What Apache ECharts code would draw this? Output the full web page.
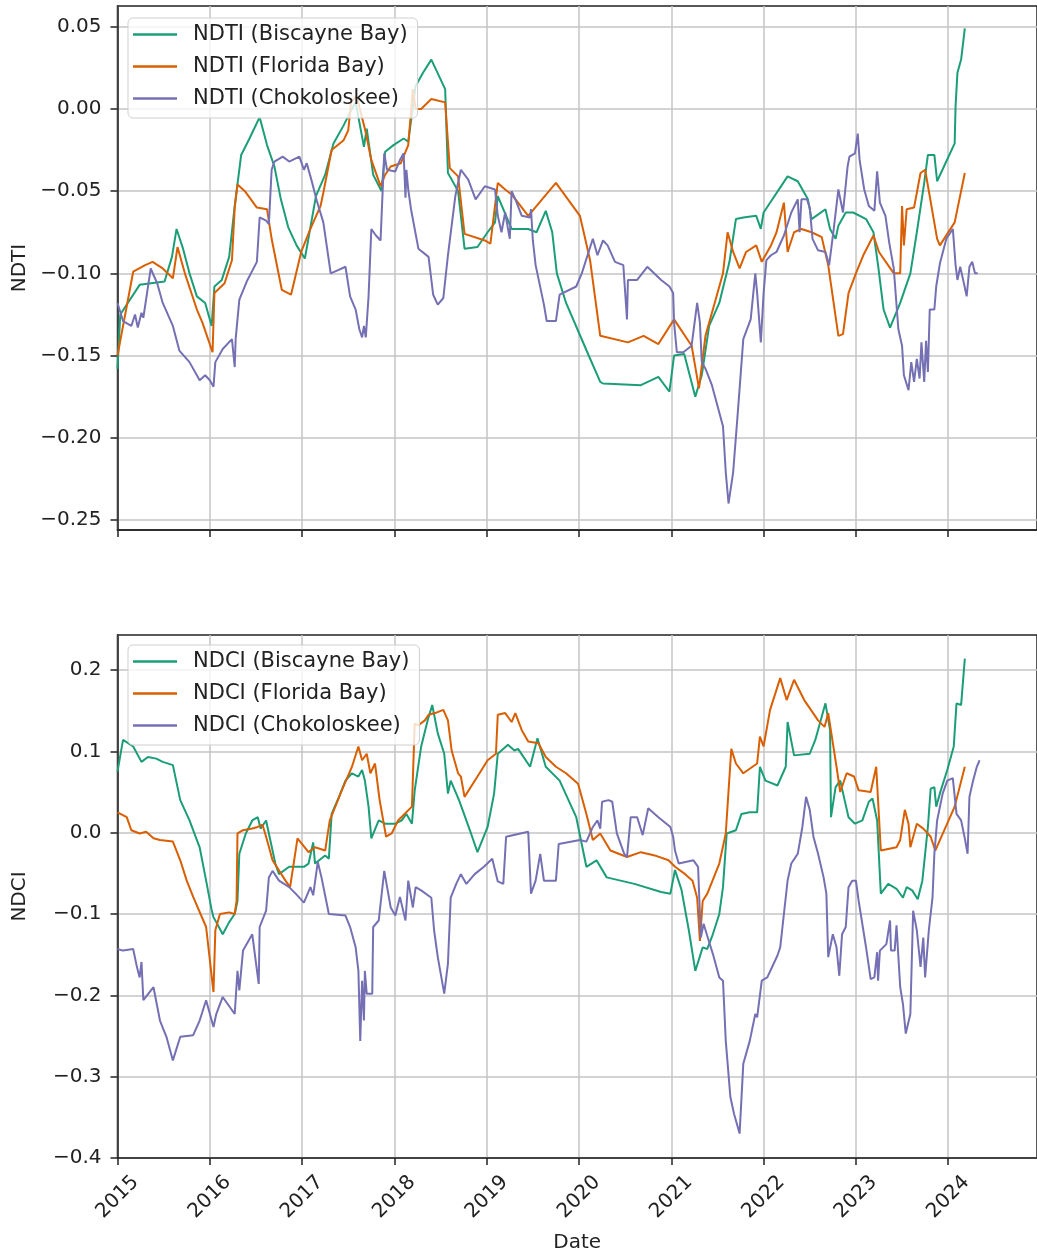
<!DOCTYPE html>
<html>
<head>
<meta charset="utf-8">
<script src="https://cdn.jsdelivr.net/npm/echarts@6/dist/echarts.min.js"></script>
<style>
  html, body { margin: 0; padding: 0; background: #fff; }
  #chart { width: 1037px; height: 1255px; }
</style>
</head>
<body>
<div id="chart"></div>
<script>
// ---- data: [decimal year, index value] ----
const ndtiBiscayne = [[2015.00,-0.158],[2015.03,-0.125],[2015.24,-0.107],[2015.51,-0.105],[2015.59,-0.090],[2015.64,-0.073],[2015.71,-0.085],[2015.78,-0.100],[2015.86,-0.114],[2015.95,-0.118],[2016.02,-0.132],[2016.05,-0.108],[2016.13,-0.104],[2016.21,-0.090],[2016.27,-0.059],[2016.34,-0.028],[2016.43,-0.018],[2016.54,-0.005],[2016.62,-0.022],[2016.70,-0.035],[2016.77,-0.055],[2016.85,-0.072],[2016.94,-0.083],[2017.03,-0.091],[2017.05,-0.092],[2017.15,-0.053],[2017.25,-0.040],[2017.34,-0.021],[2017.45,-0.010],[2017.53,-0.001],[2017.58,0.004],[2017.62,-0.008],[2017.67,-0.023],[2017.70,-0.012],[2017.77,-0.040],[2017.86,-0.050],[2017.90,-0.026],[2017.99,-0.022],[2018.10,-0.018],[2018.15,-0.020],[2018.23,0.014],[2018.31,0.022],[2018.40,0.030],[2018.55,0.012],[2018.58,-0.039],[2018.69,-0.050],[2018.76,-0.085],[2018.90,-0.084],[2019.01,-0.075],[2019.09,-0.069],[2019.12,-0.053],[2019.27,-0.073],[2019.45,-0.073],[2019.54,-0.075],[2019.64,-0.062],[2019.71,-0.075],[2019.76,-0.100],[2019.86,-0.118],[2020.09,-0.148],[2020.23,-0.166],[2020.26,-0.167],[2020.67,-0.168],[2020.86,-0.163],[2020.98,-0.172],[2021.03,-0.150],[2021.14,-0.149],[2021.26,-0.175],[2021.33,-0.162],[2021.41,-0.132],[2021.52,-0.118],[2021.63,-0.093],[2021.70,-0.067],[2021.78,-0.066],[2021.92,-0.065],[2021.97,-0.073],[2022.00,-0.063],[2022.26,-0.041],[2022.37,-0.044],[2022.48,-0.055],[2022.52,-0.067],[2022.67,-0.061],[2022.72,-0.073],[2022.78,-0.079],[2022.81,-0.071],[2022.89,-0.063],[2022.97,-0.063],[2023.11,-0.067],[2023.19,-0.075],[2023.24,-0.095],[2023.30,-0.122],[2023.37,-0.133],[2023.48,-0.118],[2023.59,-0.100],[2023.66,-0.075],[2023.74,-0.045],[2023.78,-0.028],[2023.85,-0.028],[2023.88,-0.044],[2024.07,-0.021],[2024.08,0.002],[2024.10,0.022],[2024.14,0.030],[2024.18,0.049]];

const ndtiFlorida = [[2015.00,-0.150],[2015.17,-0.099],[2015.30,-0.095],[2015.38,-0.093],[2015.49,-0.097],[2015.60,-0.103],[2015.65,-0.084],[2015.73,-0.100],[2015.86,-0.122],[2015.92,-0.130],[2016.03,-0.148],[2016.05,-0.112],[2016.16,-0.106],[2016.24,-0.092],[2016.27,-0.060],[2016.30,-0.046],[2016.38,-0.050],[2016.51,-0.060],[2016.62,-0.061],[2016.67,-0.079],[2016.73,-0.096],[2016.78,-0.110],[2016.88,-0.113],[2016.99,-0.087],[2017.09,-0.073],[2017.20,-0.059],[2017.23,-0.051],[2017.32,-0.025],[2017.45,-0.019],[2017.50,-0.013],[2017.53,0.004],[2017.59,0.008],[2017.68,-0.012],[2017.75,-0.031],[2017.85,-0.047],[2017.90,-0.040],[2017.96,-0.035],[2018.07,-0.033],[2018.15,-0.022],[2018.20,0.012],[2018.23,0.000],[2018.29,0.000],[2018.40,0.006],[2018.55,0.004],[2018.60,-0.036],[2018.69,-0.041],[2018.76,-0.076],[2018.98,-0.080],[2019.04,-0.082],[2019.12,-0.045],[2019.20,-0.049],[2019.27,-0.052],[2019.45,-0.065],[2019.75,-0.045],[2020.01,-0.065],[2020.12,-0.092],[2020.23,-0.138],[2020.53,-0.142],[2020.70,-0.138],[2020.86,-0.143],[2021.03,-0.128],[2021.22,-0.144],[2021.30,-0.170],[2021.37,-0.138],[2021.48,-0.116],[2021.56,-0.100],[2021.61,-0.075],[2021.67,-0.087],[2021.74,-0.097],[2021.81,-0.087],[2021.92,-0.083],[2021.98,-0.093],[2022.08,-0.083],[2022.14,-0.075],[2022.22,-0.057],[2022.26,-0.087],[2022.33,-0.075],[2022.41,-0.073],[2022.52,-0.075],[2022.63,-0.078],[2022.70,-0.095],[2022.81,-0.138],[2022.86,-0.137],[2022.92,-0.112],[2023.00,-0.100],[2023.08,-0.089],[2023.19,-0.077],[2023.25,-0.087],[2023.41,-0.100],[2023.48,-0.100],[2023.50,-0.059],[2023.52,-0.083],[2023.55,-0.061],[2023.63,-0.060],[2023.70,-0.039],[2023.75,-0.037],[2023.88,-0.079],[2023.91,-0.083],[2024.07,-0.069],[2024.18,-0.039]];

const ndtiChokoloskee = [[2015.00,-0.118],[2015.06,-0.129],[2015.15,-0.132],[2015.19,-0.125],[2015.22,-0.133],[2015.26,-0.124],[2015.28,-0.127],[2015.32,-0.112],[2015.36,-0.097],[2015.39,-0.101],[2015.43,-0.106],[2015.49,-0.118],[2015.60,-0.132],[2015.67,-0.147],[2015.78,-0.154],[2015.89,-0.165],[2015.95,-0.162],[2016.00,-0.165],[2016.04,-0.169],[2016.06,-0.154],[2016.14,-0.146],[2016.24,-0.140],[2016.27,-0.157],[2016.28,-0.140],[2016.32,-0.116],[2016.40,-0.105],[2016.51,-0.093],[2016.54,-0.066],[2016.61,-0.068],[2016.64,-0.070],[2016.67,-0.037],[2016.70,-0.032],[2016.79,-0.029],[2016.86,-0.032],[2016.97,-0.029],[2017.02,-0.037],[2017.05,-0.033],[2017.10,-0.043],[2017.16,-0.056],[2017.23,-0.069],[2017.31,-0.100],[2017.39,-0.098],[2017.47,-0.096],[2017.52,-0.114],[2017.58,-0.122],[2017.62,-0.134],[2017.65,-0.139],[2017.67,-0.132],[2017.69,-0.139],[2017.72,-0.114],[2017.75,-0.073],[2017.80,-0.077],[2017.85,-0.080],[2017.89,-0.027],[2017.92,-0.037],[2018.01,-0.038],[2018.06,-0.031],[2018.10,-0.027],[2018.12,-0.054],[2018.13,-0.037],[2018.15,-0.049],[2018.18,-0.061],[2018.26,-0.085],[2018.37,-0.090],[2018.42,-0.113],[2018.47,-0.119],[2018.53,-0.115],[2018.58,-0.089],[2018.66,-0.053],[2018.72,-0.037],[2018.80,-0.043],[2018.88,-0.055],[2018.98,-0.047],[2019.09,-0.049],[2019.12,-0.065],[2019.16,-0.075],[2019.20,-0.063],[2019.25,-0.079],[2019.27,-0.050],[2019.31,-0.055],[2019.38,-0.065],[2019.47,-0.066],[2019.48,-0.061],[2019.50,-0.080],[2019.53,-0.095],[2019.62,-0.119],[2019.65,-0.129],[2019.75,-0.129],[2019.79,-0.113],[2019.97,-0.108],[2020.03,-0.100],[2020.15,-0.079],[2020.20,-0.089],[2020.26,-0.080],[2020.31,-0.083],[2020.39,-0.093],[2020.48,-0.095],[2020.52,-0.128],[2020.53,-0.104],[2020.63,-0.104],[2020.74,-0.096],[2020.89,-0.104],[2020.98,-0.108],[2021.02,-0.112],[2021.03,-0.130],[2021.06,-0.148],[2021.13,-0.148],[2021.22,-0.144],[2021.28,-0.118],[2021.31,-0.130],[2021.33,-0.154],[2021.37,-0.158],[2021.44,-0.168],[2021.56,-0.193],[2021.59,-0.221],[2021.62,-0.240],[2021.67,-0.221],[2021.72,-0.185],[2021.78,-0.140],[2021.86,-0.128],[2021.91,-0.100],[2021.93,-0.112],[2021.97,-0.142],[2022.00,-0.112],[2022.03,-0.092],[2022.08,-0.089],[2022.14,-0.087],[2022.22,-0.077],[2022.30,-0.063],[2022.37,-0.055],[2022.39,-0.075],[2022.41,-0.055],[2022.47,-0.055],[2022.50,-0.060],[2022.53,-0.079],[2022.59,-0.086],[2022.67,-0.087],[2022.71,-0.095],[2022.76,-0.073],[2022.81,-0.049],[2022.86,-0.063],[2022.91,-0.035],[2022.93,-0.029],[2022.99,-0.027],[2023.02,-0.015],[2023.04,-0.031],[2023.09,-0.049],[2023.14,-0.059],[2023.20,-0.062],[2023.23,-0.038],[2023.26,-0.057],[2023.32,-0.065],[2023.36,-0.081],[2023.41,-0.097],[2023.46,-0.134],[2023.50,-0.144],[2023.52,-0.162],[2023.57,-0.171],[2023.60,-0.154],[2023.63,-0.166],[2023.66,-0.152],[2023.69,-0.164],[2023.71,-0.142],[2023.74,-0.166],[2023.76,-0.141],[2023.78,-0.160],[2023.80,-0.122],[2023.85,-0.122],[2023.87,-0.108],[2023.91,-0.094],[2023.98,-0.079],[2024.05,-0.073],[2024.08,-0.095],[2024.10,-0.104],[2024.13,-0.096],[2024.17,-0.106],[2024.20,-0.114],[2024.23,-0.096],[2024.26,-0.093],[2024.29,-0.100],[2024.32,-0.100]];

const ndciBiscayne = [[2015.00,0.075],[2015.06,0.114],[2015.17,0.106],[2015.26,0.087],[2015.33,0.093],[2015.42,0.091],[2015.49,0.087],[2015.60,0.083],[2015.68,0.040],[2015.78,0.015],[2015.89,-0.018],[2015.96,-0.059],[2016.02,-0.095],[2016.04,-0.104],[2016.07,-0.110],[2016.14,-0.125],[2016.21,-0.110],[2016.27,-0.100],[2016.30,-0.084],[2016.32,-0.026],[2016.39,-0.001],[2016.46,0.015],[2016.52,0.019],[2016.55,0.005],[2016.61,0.015],[2016.64,-0.001],[2016.71,-0.038],[2016.75,-0.051],[2016.86,-0.042],[2017.02,-0.042],[2017.07,-0.038],[2017.12,-0.012],[2017.14,-0.038],[2017.25,-0.028],[2017.29,-0.032],[2017.32,0.023],[2017.40,0.044],[2017.47,0.064],[2017.54,0.073],[2017.61,0.069],[2017.65,0.077],[2017.68,0.064],[2017.72,0.032],[2017.75,-0.007],[2017.83,0.015],[2017.90,0.011],[2018.01,0.011],[2018.08,0.015],[2018.13,0.023],[2018.19,0.011],[2018.22,0.052],[2018.29,0.106],[2018.36,0.138],[2018.41,0.157],[2018.47,0.122],[2018.54,0.097],[2018.58,0.048],[2018.61,0.064],[2018.70,0.040],[2018.83,-0.001],[2018.90,-0.024],[2019.01,0.007],[2019.08,0.048],[2019.12,0.097],[2019.23,0.108],[2019.30,0.101],[2019.34,0.103],[2019.47,0.081],[2019.55,0.116],[2019.64,0.081],[2019.79,0.064],[2019.97,0.019],[2020.08,-0.042],[2020.19,-0.034],[2020.30,-0.055],[2020.60,-0.063],[2020.89,-0.073],[2020.99,-0.075],[2021.04,-0.046],[2021.11,-0.070],[2021.19,-0.120],[2021.26,-0.170],[2021.34,-0.141],[2021.39,-0.143],[2021.45,-0.125],[2021.52,-0.100],[2021.56,-0.067],[2021.60,-0.001],[2021.70,0.003],[2021.76,0.023],[2021.85,0.025],[2021.93,0.025],[2021.96,0.081],[2022.02,0.064],[2022.15,0.058],[2022.24,0.081],[2022.26,0.136],[2022.33,0.095],[2022.50,0.097],[2022.56,0.114],[2022.67,0.159],[2022.72,0.126],[2022.73,0.019],[2022.78,0.056],[2022.83,0.064],[2022.87,0.044],[2022.92,0.019],[2022.99,0.011],[2023.07,0.015],[2023.14,0.038],[2023.18,0.042],[2023.23,0.015],[2023.27,-0.075],[2023.35,-0.063],[2023.44,-0.069],[2023.51,-0.080],[2023.55,-0.067],[2023.61,-0.071],[2023.67,-0.082],[2023.72,-0.059],[2023.78,0.007],[2023.81,0.054],[2023.85,0.056],[2023.87,0.032],[2023.92,0.052],[2023.99,0.077],[2024.06,0.106],[2024.09,0.159],[2024.14,0.157],[2024.18,0.214]];

const ndciFlorida = [[2015.00,0.025],[2015.10,0.019],[2015.15,0.003],[2015.24,-0.001],[2015.31,0.001],[2015.39,-0.007],[2015.46,-0.009],[2015.60,-0.011],[2015.68,-0.034],[2015.75,-0.059],[2015.82,-0.079],[2015.96,-0.116],[2016.04,-0.196],[2016.06,-0.120],[2016.11,-0.100],[2016.21,-0.098],[2016.27,-0.100],[2016.29,-0.084],[2016.30,-0.001],[2016.36,0.003],[2016.46,0.005],[2016.52,0.007],[2016.57,0.010],[2016.61,-0.005],[2016.68,-0.034],[2016.82,-0.059],[2016.87,-0.067],[2016.95,-0.007],[2017.07,-0.024],[2017.14,-0.018],[2017.25,-0.022],[2017.30,0.015],[2017.43,0.052],[2017.54,0.081],[2017.61,0.106],[2017.65,0.089],[2017.70,0.097],[2017.74,0.073],[2017.79,0.085],[2017.84,0.040],[2017.91,-0.005],[2017.97,-0.001],[2018.04,0.015],[2018.11,0.023],[2018.19,0.032],[2018.22,0.134],[2018.26,0.132],[2018.33,0.138],[2018.37,0.145],[2018.44,0.147],[2018.53,0.151],[2018.58,0.138],[2018.62,0.101],[2018.69,0.073],[2018.72,0.069],[2018.76,0.044],[2018.90,0.069],[2019.01,0.089],[2019.10,0.097],[2019.12,0.145],[2019.20,0.147],[2019.27,0.136],[2019.31,0.147],[2019.38,0.126],[2019.45,0.112],[2019.56,0.110],[2019.64,0.093],[2019.75,0.081],[2019.86,0.073],[2019.99,0.060],[2020.08,0.023],[2020.15,-0.009],[2020.23,-0.001],[2020.34,-0.022],[2020.52,-0.030],[2020.67,-0.024],[2020.82,-0.028],[2020.97,-0.034],[2021.04,-0.042],[2021.15,-0.051],[2021.23,-0.059],[2021.28,-0.080],[2021.31,-0.133],[2021.34,-0.084],[2021.39,-0.075],[2021.52,-0.038],[2021.59,-0.001],[2021.65,0.103],[2021.70,0.085],[2021.78,0.073],[2021.93,0.085],[2021.96,0.118],[2022.00,0.106],[2022.07,0.151],[2022.18,0.190],[2022.25,0.163],[2022.33,0.188],[2022.44,0.163],[2022.59,0.138],[2022.66,0.130],[2022.70,0.147],[2022.79,0.081],[2022.83,0.050],[2022.90,0.073],[2022.98,0.069],[2023.03,0.052],[2023.16,0.050],[2023.22,0.081],[2023.27,-0.022],[2023.44,-0.018],[2023.48,-0.009],[2023.53,0.028],[2023.57,0.011],[2023.59,-0.018],[2023.66,0.011],[2023.73,0.005],[2023.81,-0.005],[2023.86,-0.022],[2024.07,0.032],[2024.18,0.081]];

const ndciChokoloskee = [[2015.00,-0.143],[2015.06,-0.145],[2015.17,-0.143],[2015.21,-0.165],[2015.24,-0.178],[2015.26,-0.159],[2015.28,-0.206],[2015.39,-0.190],[2015.46,-0.231],[2015.53,-0.251],[2015.60,-0.280],[2015.68,-0.251],[2015.82,-0.249],[2015.89,-0.231],[2015.96,-0.206],[2016.04,-0.239],[2016.07,-0.223],[2016.14,-0.202],[2016.27,-0.223],[2016.30,-0.170],[2016.32,-0.194],[2016.36,-0.145],[2016.46,-0.125],[2016.53,-0.186],[2016.54,-0.116],[2016.61,-0.096],[2016.64,-0.055],[2016.68,-0.047],[2016.75,-0.059],[2016.86,-0.067],[2016.93,-0.075],[2017.02,-0.086],[2017.09,-0.067],[2017.12,-0.077],[2017.17,-0.036],[2017.21,-0.055],[2017.29,-0.100],[2017.47,-0.102],[2017.52,-0.116],[2017.58,-0.141],[2017.61,-0.170],[2017.63,-0.256],[2017.65,-0.182],[2017.67,-0.231],[2017.68,-0.170],[2017.70,-0.198],[2017.76,-0.198],[2017.77,-0.116],[2017.83,-0.108],[2017.89,-0.047],[2017.96,-0.092],[2018.01,-0.102],[2018.06,-0.079],[2018.12,-0.108],[2018.15,-0.059],[2018.20,-0.092],[2018.23,-0.067],[2018.29,-0.071],[2018.40,-0.080],[2018.43,-0.120],[2018.47,-0.153],[2018.54,-0.198],[2018.58,-0.161],[2018.61,-0.080],[2018.67,-0.063],[2018.72,-0.051],[2018.78,-0.063],[2018.87,-0.051],[2018.97,-0.042],[2019.06,-0.032],[2019.12,-0.060],[2019.18,-0.063],[2019.21,-0.005],[2019.45,0.001],[2019.48,-0.075],[2019.53,-0.059],[2019.58,-0.026],[2019.62,-0.059],[2019.75,-0.059],[2019.78,-0.014],[2020.01,-0.009],[2020.08,-0.011],[2020.15,0.007],[2020.20,0.015],[2020.23,0.005],[2020.25,0.038],[2020.32,0.040],[2020.36,0.038],[2020.41,-0.001],[2020.49,-0.026],[2020.52,-0.030],[2020.56,0.019],[2020.63,0.019],[2020.69,-0.003],[2020.75,0.030],[2020.86,0.019],[2020.99,0.007],[2021.02,-0.005],[2021.04,-0.022],[2021.08,-0.038],[2021.24,-0.034],[2021.29,-0.042],[2021.32,-0.129],[2021.35,-0.112],[2021.39,-0.127],[2021.45,-0.149],[2021.52,-0.178],[2021.56,-0.182],[2021.59,-0.256],[2021.64,-0.325],[2021.68,-0.346],[2021.70,-0.354],[2021.74,-0.370],[2021.78,-0.284],[2021.85,-0.256],[2021.91,-0.223],[2021.93,-0.227],[2021.98,-0.182],[2022.04,-0.178],[2022.15,-0.151],[2022.18,-0.141],[2022.22,-0.100],[2022.26,-0.059],[2022.30,-0.038],[2022.37,-0.026],[2022.42,0.007],[2022.46,0.044],[2022.50,0.028],[2022.54,-0.005],[2022.59,-0.026],[2022.65,-0.055],[2022.68,-0.075],[2022.70,-0.153],[2022.75,-0.125],[2022.79,-0.141],[2022.82,-0.176],[2022.85,-0.125],[2022.89,-0.116],[2022.92,-0.067],[2022.96,-0.059],[2023.00,-0.059],[2023.03,-0.084],[2023.11,-0.141],[2023.16,-0.180],[2023.20,-0.178],[2023.23,-0.147],[2023.24,-0.182],[2023.26,-0.145],[2023.33,-0.137],[2023.37,-0.108],[2023.38,-0.145],[2023.42,-0.145],[2023.44,-0.114],[2023.48,-0.190],[2023.51,-0.211],[2023.54,-0.247],[2023.59,-0.223],[2023.62,-0.096],[2023.66,-0.120],[2023.70,-0.165],[2023.73,-0.129],[2023.75,-0.178],[2023.79,-0.120],[2023.83,-0.080],[2023.85,-0.026],[2023.88,0.015],[2023.94,0.048],[2023.99,0.064],[2024.05,0.067],[2024.09,0.023],[2024.14,0.015],[2024.18,-0.007],[2024.21,-0.026],[2024.23,0.044],[2024.27,0.064],[2024.31,0.081],[2024.34,0.089]];

// tick labels
const yearTicks = [2015, 2016, 2017, 2018, 2019, 2020, 2021, 2022, 2023, 2024];
const ndtiTicks = [-0.25, -0.2, -0.15, -0.1, -0.05, 0, 0.05];
const ndciTicks = [-0.4, -0.3, -0.2, -0.1, 0, 0.1, 0.2];

const sites = ['Biscayne Bay', 'Florida Bay', 'Chokoloskee'];
const colors = ['#1b9e77', '#d95f02', '#7570b3'];

const FONT = 'DejaVu Sans';
const INK = '#222';

// matplotlib style minus sign
function fmt(v, digits) {
  const s = Math.abs(v).toFixed(digits);
  return (v < -1e-9 ? '\u2212' : '') + s;
}

const chart = echarts.init(document.getElementById('chart'));

function xAxisFor(idx, withLabels) {
  return {
    type: 'value',
    gridIndex: idx,
    min: 2015,
    max: 2024.962,
    name: withLabels ? 'Date' : '',
    nameLocation: 'middle',
    nameGap: 75,
    nameTextStyle: { fontFamily: FONT, fontSize: 20, color: INK },
    axisLine: { show: true, onZero: false, lineStyle: { color: INK, width: 1.5 } },
    axisTick: { show: true, length: 7, customValues: yearTicks, lineStyle: { color: INK, width: 1.5 } },
    splitLine: { show: true, lineStyle: { color: '#c4c4c4', width: 1.5 } },
    axisLabel: withLabels ? {
      show: true,
      customValues: yearTicks,
      rotate: 45,
      align: 'center',
      verticalAlign: 'middle',
      margin: 39,
      fontFamily: FONT,
      fontSize: 20,
      color: INK,
      formatter: v => String(Math.round(v))
    } : { show: false }
  };
}

function yAxisFor(idx, name, min, max, ticks, digits) {
  return {
    type: 'value',
    gridIndex: idx,
    min: min,
    max: max,
    name: name,
    nameLocation: 'middle',
    nameGap: 88,
    nameTextStyle: { fontFamily: FONT, fontSize: 20, color: INK },
    axisLine: { show: true, onZero: false, lineStyle: { color: INK, width: 1.5 } },
    axisTick: { show: true, length: 7, customValues: ticks, lineStyle: { color: INK, width: 1.5 } },
    splitLine: { show: true, lineStyle: { color: '#c4c4c4', width: 1.5 } },
    axisLabel: {
      customValues: ticks,
      margin: 16,
      fontFamily: FONT,
      fontSize: 20,
      color: INK,
      formatter: v => fmt(v, digits)
    }
  };
}

function lineSeries(name, data, color, axis) {
  return {
    name: name,
    type: 'line',
    xAxisIndex: axis,
    yAxisIndex: axis,
    data: data,
    symbol: 'none',
    showSymbol: false,
    lineStyle: { color: color, width: 2 },
    itemStyle: { color: color },
    emphasis: { disabled: true }
  };
}

// legend entries drawn as short flat strokes like matplotlib handles
function legendFor(top, names) {
  return {
    orient: 'vertical',
    left: 128,
    top: top,
    data: names,
    icon: 'rect',
    itemWidth: 44,
    itemHeight: 2.5,
    itemGap: 9,
    padding: [5, 10, 8, 5],
    backgroundColor: 'rgba(255,255,255,0.8)',
    borderColor: '#cfcfcf',
    borderWidth: 1,
    borderRadius: 5,
    textStyle: { fontFamily: FONT, fontSize: 21, color: INK, padding: [0, 0, 0, 11], lineHeight: 23 }
  };
}

const ndtiNames = sites.map(s => 'NDTI (' + s + ')');
const ndciNames = sites.map(s => 'NDCI (' + s + ')');

chart.setOption({
  animation: false,
  backgroundColor: '#fff',
  grid: [
    { left: 117.5, right: -3, top: 6, height: 524, show: true, borderColor: INK, borderWidth: 1.5, backgroundColor: 'transparent' },
    { left: 117.5, right: -3, top: 635, height: 523, show: true, borderColor: INK, borderWidth: 1.5, backgroundColor: 'transparent' }
  ],
  xAxis: [xAxisFor(0, false), xAxisFor(1, true)],
  yAxis: [
    yAxisFor(0, 'NDTI', -0.2561, 0.0626, ndtiTicks, 2),
    yAxisFor(1, 'NDCI', -0.4, 0.243, ndciTicks, 1)
  ],
  legend: [legendFor(18, ndtiNames), legendFor(645, ndciNames)],
  series: [
    lineSeries(ndtiNames[0], ndtiBiscayne, colors[0], 0),
    lineSeries(ndtiNames[1], ndtiFlorida, colors[1], 0),
    lineSeries(ndtiNames[2], ndtiChokoloskee, colors[2], 0),
    lineSeries(ndciNames[0], ndciBiscayne, colors[0], 1),
    lineSeries(ndciNames[1], ndciFlorida, colors[1], 1),
    lineSeries(ndciNames[2], ndciChokoloskee, colors[2], 1)
  ]
});
</script>
</body>
</html>
